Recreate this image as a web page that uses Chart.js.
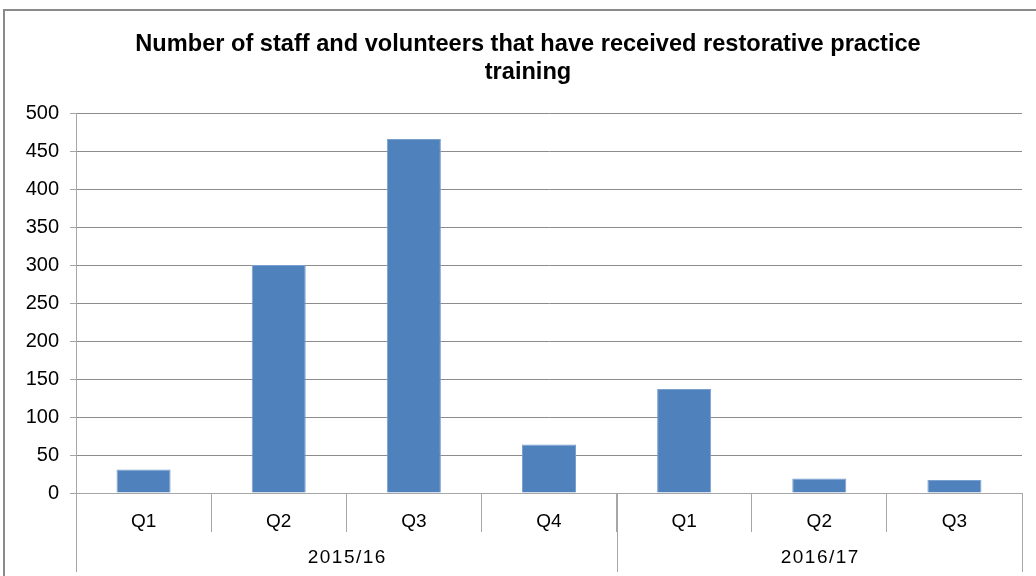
<!DOCTYPE html>
<html>
<head>
<meta charset="utf-8">
<script src="https://cdn.jsdelivr.net/npm/chart.js@4/dist/chart.umd.min.js"></script>
<style>
html,body{margin:0;padding:0;background:#fff;}
#wrap{width:1036px;height:576px;position:relative;}
</style>
</head>
<body>
<div id="wrap"><canvas id="c" width="1036" height="576"></canvas></div>
<script>
const titleLines = ["Number of staff and volunteers that have received restorative practice", "training"];
const quarters = ["Q1", "Q2", "Q3", "Q4", "Q1", "Q2", "Q3"];
const values = [31, 300, 466, 64, 137, 19, 17];
const groups = ["2015/16", "2016/17"];
const groupSizes = [4, 3];
const yTicks = [0, 50, 100, 150, 200, 250, 300, 350, 400, 450, 500];

const FONT = "'Liberation Sans', Arial, sans-serif";

const frame = {
  id: 'frame',
  beforeDraw(chart) {
    const ctx = chart.ctx;
    ctx.save();
    ctx.fillStyle = '#fff';
    ctx.fillRect(0, 0, chart.width, chart.height);
    ctx.strokeStyle = '#8a8a8a';
    ctx.lineWidth = 2;
    ctx.beginPath();
    ctx.moveTo(4, 600);
    ctx.lineTo(4, 10);
    ctx.lineTo(1040, 10);
    ctx.stroke();
    ctx.restore();
  }
};

const titleDraw = {
  id: 'titleDraw',
  afterDraw(chart) {
    const ctx = chart.ctx;
    ctx.save();
    ctx.fillStyle = '#000';
    ctx.font = 'bold 23.6px ' + FONT;
    ctx.textAlign = 'center';
    ctx.textBaseline = 'middle';
    ctx.fillText(titleLines[0], 528, 44);
    ctx.fillText(titleLines[1], 528, 72);
    ctx.restore();
  }
};

const groupAxis = {
  id: 'groupAxis',
  afterDraw(chart) {
    const x = chart.scales.x;
    const ctx = chart.ctx;
    const bottom = chart.chartArea.bottom;
    const half = (x.getPixelForValue(1) - x.getPixelForValue(0)) / 2;
    ctx.save();
    ctx.strokeStyle = '#a6a6a6';
    ctx.lineWidth = 1;
    ctx.fillStyle = '#000';
    ctx.font = '19px ' + FONT;
    ctx.textAlign = 'center';
    ctx.textBaseline = 'middle';
    try { ctx.letterSpacing = '1.5px'; } catch (e) {}
    let idx = 0;
    const bounds = [];
    groups.forEach((g, i) => {
      const start = x.getPixelForValue(idx) - half;
      const end = x.getPixelForValue(idx + groupSizes[i] - 1) + half;
      bounds.push(start, end);
      ctx.fillText(g, (start + end) / 2 + 1, 558);
      idx += groupSizes[i];
    });
    [...new Set(bounds.map(b => Math.round(b)))].forEach(b => {
      ctx.beginPath();
      ctx.moveTo(b + 0.5, bottom);
      ctx.lineTo(b + 0.5, 572);
      ctx.stroke();
    });
    ctx.restore();
  }
};

new Chart(document.getElementById('c'), {
  type: 'bar',
  data: {
    labels: quarters,
    datasets: [{
      data: values,
      backgroundColor: '#4F81BD',
      borderColor: '#7aa0cf',
      borderWidth: {top: 1, left: 1, right: 1, bottom: 0},
      barPercentage: 0.4,
      categoryPercentage: 1
    }]
  },
  options: {
    responsive: false,
    animation: false,
    devicePixelRatio: 1,
    layout: { padding: { left: 0, right: 14, top: 10, bottom: 0 } },
    plugins: {
      legend: { display: false },
      tooltip: { enabled: false },
      title: {
        display: true,
        text: titleLines,
        color: 'rgba(0,0,0,0)',
        font: { family: FONT, size: 23, weight: 'bold', lineHeight: 1.22 },
        padding: { top: 20, bottom: 27 }
      }
    },
    scales: {
      x: {
        offset: true,
        grid: {
          offset: true,
          drawOnChartArea: false,
          drawTicks: true,
          tickLength: 39,
          color: '#a6a6a6'
        },
        border: { color: '#a6a6a6' },
        ticks: {
          color: '#000',
          font: { family: FONT, size: 19 },
          padding: -22,
          maxRotation: 0
        },
        afterFit(scale) { scale.height = 83; }
      },
      y: {
        min: 0,
        max: 500,
        afterBuildTicks(scale) { scale.ticks = yTicks.map(v => ({ value: v })); },
        grid: {
          color: '#8c8c8c',
          tickLength: 6,
          tickColor: '#a6a6a6'
        },
        border: { color: '#a6a6a6' },
        ticks: {
          color: '#000',
          font: { family: FONT, size: 20 },
          padding: 11
        },
        afterFit(scale) { scale.width = 76; }
      }
    }
  },
  plugins: [frame, groupAxis, titleDraw]
});
</script>
</body>
</html>
